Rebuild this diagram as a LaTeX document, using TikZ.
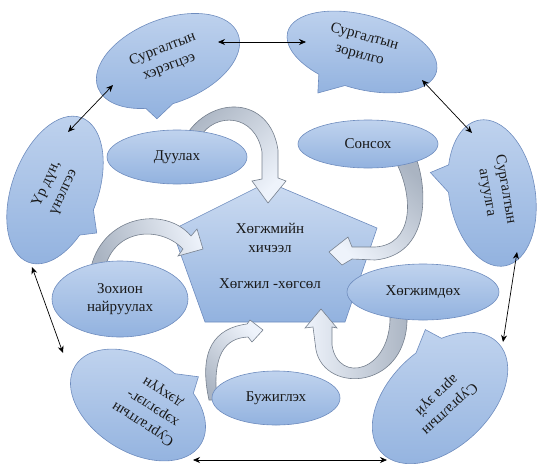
\documentclass[tikz,border=0pt]{standalone}
\usepackage{fontspec}
\setmainfont{Liberation Serif}
\usetikzlibrary{shapes.callouts}
\usetikzlibrary{shapes.geometric}
\usetikzlibrary{calc}
\usetikzlibrary{arrows.meta}

\definecolor{bubtop}{RGB}{192,211,238}
\definecolor{bubbot}{RGB}{146,178,223}
\definecolor{bubline}{RGB}{110,140,190}
\definecolor{ribdark}{RGB}{170,180,194}
\definecolor{riblight}{RGB}{238,243,251}
\definecolor{ribline}{RGB}{118,128,142}

\tikzset{
  bubble/.style={shape=ellipse callout, draw=bubline, line width=0.6pt,
    top color=bubtop, bottom color=bubbot, inner sep=0pt, callout pointer arc=22},
  oval/.style={ellipse, draw=bubline, line width=0.6pt,
    top color=bubtop, bottom color=bubbot, inner sep=0pt},
  penta/.style={draw=bubline, line width=0.6pt, top color=bubtop!80!white, bottom color=bubbot},
  ribbon/.style={draw=ribline, line width=0.6pt, top color=ribdark, bottom color=riblight},
  link/.style={{Stealth[length=7pt,width=6pt]}-{Stealth[length=7pt,width=6pt]}, line width=0.7pt},
  lbl/.style={font=\fontsize{15}{18.5}\selectfont, align=center, inner sep=0pt, text=black!90}
}

\begin{document}
\begin{tikzpicture}[x=1pt,y=-1pt]
\useasboundingbox (0,0) rectangle (537,463);

\node[bubble, minimum width=150pt, minimum height=84pt, rotate=21,
  callout relative pointer={(-6.4pt,-10.3pt)}] (bneed) at (168,61) {};
\node[bubble, minimum width=154pt, minimum height=74pt, rotate=-15,
  callout relative pointer={(-9.8pt,-15.6pt)}] (baim) at (362,52) {};
\node[bubble, minimum width=148pt, minimum height=86pt, rotate=-80,
  callout relative pointer={(-8.7pt,-16.1pt)}] (bcont) at (492,193) {};
\node[bubble, minimum width=160pt, minimum height=100pt, rotate=-137,
  callout relative pointer={(-7.9pt,-13.2pt)}] (bmeth) at (440,398) {};
\node[bubble, minimum width=148pt, minimum height=94pt, rotate=148,
  callout relative pointer={(-8.1pt,-12.5pt)}] (btool) at (138,405) {};
\node[bubble, minimum width=154pt, minimum height=86pt, rotate=70,
  callout relative pointer={(-6pt,-12.4pt)}] (bres) at (55,190) {};

\node[lbl, rotate=21] (tneed) at ($(bneed)+(-2,-3)$) {Сургалтын\\хэрэгцээ};
\node[lbl, rotate=-15] (taim) at ($(baim)+(0,-6)$) {Сургалтын\\зорилго};
\node[lbl, rotate=-80] (tcont) at ($(bcont)+(4,-2)$) {Сургалтын\\агуулга};
\node[lbl, rotate=-137] (tmeth) at ($(bmeth)+(3,4)$) {Сургалтын\\арга зүй};
\node[lbl, rotate=148] (ttool) at ($(btool)+(15,3)$) {Сургалтын\\хэрэглэг-\\дэхүүн};
\node[lbl, rotate=65] (tres) at ($(bres)+(0,-2)$) {Үр дүн,\\үнэлгээ};

\draw[link] ($(bneed)+(50,-19)$) -- ($(baim)+(-56,-10)$);
\draw[link] ($(baim)+(60,28)$) -- ($(bcont)+(-20,-60)$);
\draw[link] ($(bcont)+(25,59)$) -- ($(bmeth)+(63,-56)$);
\draw[link] ($(bmeth)+(-53,62)$) -- ($(btool)+(55,55)$);
\draw[link] ($(btool)+(-75,-52)$) -- ($(bres)+(-23,77)$);
\draw[link] ($(bres)+(13,-58)$) -- ($(bneed)+(-55,24)$);

\draw[penta] (268,182) -- (377,228) -- (345,322) -- (205,322) -- (172,230) -- cycle;

% curved arrows into the lesson
\draw[ribbon, shading angle=45] (185,137) .. controls (210,95) and (270,95) .. (278,150)
  -- (278,178) -- (286,181) -- (268,203) -- (252,181) -- (262,179) -- (262,152)
  .. controls (255,113) and (215,112) .. (200,137) -- cycle;
\draw[ribbon, shading angle=-45] (396,162) .. controls (415,200) and (412,245) .. (375,247)
  -- (352,247) -- (348,237) -- (329,252) -- (342,265) -- (352,259) -- (375,260)
  .. controls (430,255) and (428,190) .. (416,158) -- cycle;
\draw[ribbon, shading angle=-90] (390,314) .. controls (392,372) and (338,385) .. (332,345)
  -- (332,327) -- (337,328) -- (321,309) -- (305,328) -- (313,327) -- (316,350)
  .. controls (325,395) and (410,390) .. (407,314) -- cycle;
\draw[ribbon, shading angle=135] (209,400) .. controls (198,350) and (215,328) .. (247,324)
  -- (250,320) -- (263,330) -- (252,342) -- (248,337)
  .. controls (225,338) and (212,355) .. (217,400) -- cycle;
\draw[ribbon, shading angle=110] (90,272) .. controls (100,215) and (165,205) .. (191,236)
  -- (197,229) -- (203,249) -- (178,256) -- (183,249)
  .. controls (160,225) and (112,228) .. (104,272) -- cycle;

\node[oval, lbl, minimum width=140pt, minimum height=54pt] (sing) at (177,157) {Дуулах};
\node[oval, lbl, minimum width=140pt, minimum height=48pt] (listen) at (368,144) {Сонсох};
\node[oval, lbl, minimum width=152pt, minimum height=56pt] (play) at (423,292) {Хөгжимдөх};
\node[oval, lbl, minimum width=128pt, minimum height=54pt] (dance) at (276,398) {Бужиглэх};
\node[oval, lbl, minimum width=136pt, minimum height=76pt] (compose) at (120,299) {Зохион\\найруулах};

\node[lbl] (lesson) at (270,238) {Хөгжмийн\\хичээл};
\node[lbl] (growth) at (270,284) {Хөгжил -хөгсөл};
\end{tikzpicture}
\end{document}
